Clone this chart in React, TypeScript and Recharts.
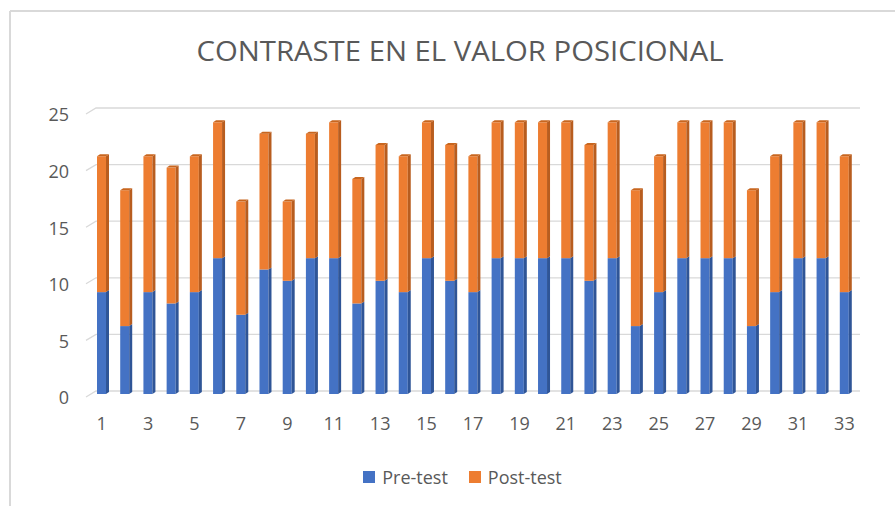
import React from "react";
import { BarChart, Bar, XAxis, YAxis, CartesianGrid } from "recharts";

const categories = ["1", "2", "3", "4", "5", "6", "7", "8", "9", "10", "11", "12", "13", "14", "15", "16", "17", "18", "19", "20", "21", "22", "23", "24", "25", "26", "27", "28", "29", "30", "31", "32", "33"];
const preTest = [9, 6, 9, 8, 9, 12, 7, 11, 10, 12, 12, 8, 10, 9, 12, 10, 9, 12, 12, 12, 12, 10, 12, 6, 9, 12, 12, 12, 6, 9, 12, 12, 9];
const postTest = [12, 12, 12, 12, 12, 12, 10, 12, 7, 11, 12, 11, 12, 12, 12, 12, 12, 12, 12, 12, 12, 12, 12, 12, 12, 12, 12, 12, 12, 12, 12, 12, 12];
const yTicks = [0, 5, 10, 15, 20, 25];

const data = categories.map((name, i) => ({ name, pre: preTest[i], post: postTest[i] }));

const FONT = "'Open Sans', sans-serif";
const TEXT = "#595959";

// front face + dark right side, top face only on the upper series
function bar3d(front: string, side: string, top: string | null) {
  return (props: any) => {
    const { x, y, width, height } = props;
    if (!height || height <= 0) return <g />;
    const d = 3;
    const dy = 2;
    return (
      <g>
        <rect x={x} y={y} width={width} height={height} fill={front} />
        <polygon
          points={`${x + width},${y + height} ${x + width + d},${y + height - dy} ${x + width + d},${y - dy} ${x + width},${y}`}
          fill={side}
        />
        {top && (
          <polygon
            points={`${x},${y} ${x + d},${y - dy} ${x + width + d},${y - dy} ${x + width},${y}`}
            fill={top}
          />
        )}
      </g>
    );
  };
}

function gridLine(props: any) {
  const { x1, x2, y1, index } = props;
  return (
    <path
      key={`g-${index}-${y1}`}
      d={`M${x1 - 4},${y1 + 3} L${x1 + 6},${y1 - 3} L${x2 + 4},${y1 - 3}`}
      stroke="#d9d9d9"
      strokeWidth={1.3}
      fill="none"
    />
  );
}

export default function App() {
  return (
    <div style={{ position: "absolute", left: 0, top: 0, width: 895, height: 506, background: "#fff", overflow: "hidden" }}>
      <svg width={895} height={506} style={{ position: "absolute", left: 0, top: 0 }}>
        <line x1={10} y1={11} x2={895} y2={11} stroke="#d9d9d9" strokeWidth={2} />
        <line x1={10} y1={11} x2={10} y2={506} stroke="#d9d9d9" strokeWidth={2} />
        <text
          x={460}
          y={61}
          textAnchor="middle"
          fontFamily={FONT}
          fontSize={28}
          fill={TEXT}
          textLength={527}
          lengthAdjust="spacingAndGlyphs"
        >
          CONTRASTE EN EL VALOR POSICIONAL
        </text>
      </svg>
      <div style={{ position: "absolute", left: 0, top: 0 }}>
        <BarChart
          width={895}
          height={506}
          data={data}
          margin={{ top: 111, right: 39, bottom: 82, left: 10 }}
          barCategoryGap={0}
        >
          <CartesianGrid vertical={false} horizontal={gridLine} />
          <XAxis
            dataKey="name"
            interval={1}
            axisLine={false}
            tickLine={false}
            tickSize={0}
            tickMargin={23}
            height={30}
            tick={{ fill: TEXT, fontSize: 18, fontFamily: FONT }}
          />
          <YAxis
            domain={[0, 25]}
            ticks={yTicks}
            axisLine={false}
            tickLine={false}
            tickSize={0}
            tickMargin={21}
            width={80}
            tick={{ fill: TEXT, fontSize: 18, fontFamily: FONT, dy: 4 }}
          />
          <Bar
            dataKey="pre"
            stackId="a"
            barSize={9}
            fill="#4472C4"
            isAnimationActive={false}
            shape={bar3d("#4472C4", "#2f5597", null)}
          />
          <Bar
            dataKey="post"
            stackId="a"
            barSize={9}
            fill="#ED7D31"
            isAnimationActive={false}
            shape={bar3d("#ED7D31", "#b85d1f", "#c8661f")}
          />
        </BarChart>
      </div>
      <div
        style={{
          position: "absolute",
          top: 465,
          left: 0,
          width: 895,
          display: "flex",
          justifyContent: "center",
          fontFamily: FONT,
          fontSize: 18,
          color: TEXT,
          paddingLeft: 30,
          boxSizing: "border-box",
        }}
      >
        <span style={{ display: "flex", alignItems: "center", marginRight: 21 }}>
          <span style={{ width: 12, height: 12, background: "#4472C4", marginRight: 7 }} />
          Pre-test
        </span>
        <span style={{ display: "flex", alignItems: "center" }}>
          <span style={{ width: 12, height: 12, background: "#ED7D31", marginRight: 7 }} />
          Post-test
        </span>
      </div>
    </div>
  );
}
